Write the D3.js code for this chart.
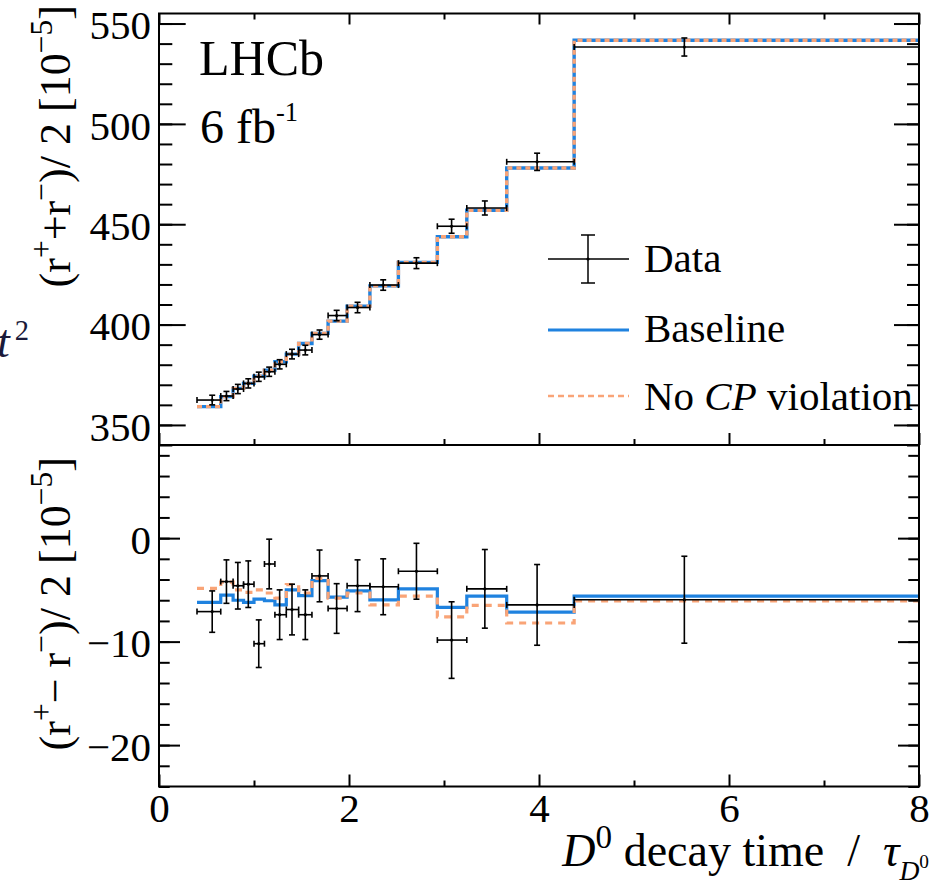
<!DOCTYPE html>
<html>
<head>
<meta charset="utf-8">
<script src="https://cdn.jsdelivr.net/npm/d3@7"></script>
<style>
body { margin: 0; background: #fff; }
svg text { font-family: "Liberation Serif", "Times New Roman", serif; }
</style>
</head>
<body>
<script>
// bin edges and mean decay time (units of D0 lifetime)
var binEdges = [0.40, 0.65, 0.78, 0.89, 1.00, 1.11, 1.22, 1.34, 1.47, 1.61, 1.78, 1.98, 2.22, 2.52, 2.93, 3.24, 3.66, 4.37, 8.00];
var tMean = [0.56, 0.71, 0.83, 0.94, 1.05, 1.16, 1.27, 1.40, 1.54, 1.69, 1.87, 2.09, 2.36, 2.71, 3.08, 3.43, 3.98, 5.53];

// (r+ + r-)/2  [1e-5]
var sumData = [362.4, 364.4, 367.9, 370.7, 374.0, 376.5, 380.2, 385.3, 387.3, 395.0, 404.5, 408.5, 419.7, 430.6, 449.0, 458.1, 481.1, 538.3];
var sumErr = [2.4, 2.3, 2.3, 2.3, 2.3, 2.3, 2.3, 2.4, 2.4, 2.3, 2.6, 2.6, 2.6, 2.7, 3.5, 3.5, 4.3, 4.5];
var sumBaseline = [359.1, 364.1, 368.2, 370.7, 374.3, 377.3, 381.5, 385.3, 390.6, 395.6, 401.7, 409.2, 419.3, 431.0, 443.8, 457.0, 478.0, 541.7];
var sumNoCP = [359.1, 364.1, 368.2, 370.7, 374.3, 377.3, 381.5, 385.3, 390.6, 395.6, 401.7, 409.2, 419.3, 431.0, 443.8, 457.0, 478.0, 541.7];

// (r+ - r-)/2  [1e-5]
var diffData = [-7.1, -4.2, -4.6, -4.45, -10.2, -2.5, -7.4, -6.9, -7.4, -3.65, -6.8, -4.6, -4.7, -3.2, -9.85, -4.9, -6.45, -5.95];
var diffErr = [2.0, 2.1, 2.25, 2.25, 2.3, 2.4, 2.4, 2.45, 2.4, 2.5, 2.4, 2.5, 2.7, 2.7, 3.7, 3.8, 3.9, 4.2];
var diffBaseline = [-6.2, -5.5, -6.0, -6.2, -5.9, -6.05, -6.45, -5.0, -5.55, -4.1, -5.7, -5.1, -5.97, -4.9, -6.7, -5.6, -7.15, -5.6];
var diffNoCP = [-4.85, -4.25, -5.0, -5.25, -5.0, -5.3, -5.8, -4.5, -5.3, -3.9, -5.8, -5.3, -6.45, -5.6, -7.6, -6.5, -8.2, -6.07];

var xTicks = [0, 2, 4, 6, 8], xMinor = [1, 3, 5, 7];
var topTicks = [350, 400, 450, 500, 550], topMinor = d3.range(340, 556, 10);
var botTicks = [-20, -10, 0], botMinor = d3.range(-24, 9.5, 2);

var legendItems = ["Data", "Baseline", "No CP violation"];

var W = 932, H = 881;
var xL = 159, xR = 919, yT = 13.5, yM = 445, yB = 786.5;
var BLUE = "#1f82df", ORANGE = "#f9a477";
var FONT = '"Liberation Serif", "Times New Roman", serif';
var FS = 41; // tick label size
var NB = "\u00a0";

var svg = d3.select('body').append('svg').attr('width', W).attr('height', H);

var x = d3.scaleLinear().domain([0, 8]).range([xL, xR]);
var yTop = d3.scaleLinear().domain([340, 555]).range([yM, yT]);
var yBot = d3.scaleLinear().domain([-24, 9]).range([yB, yM]);

/* rich text: parts with offset (em), size scale and extra dx */
function rich(sel, parts, size){
	var cur = 0;
	parts.forEach(function(p){
		var off = (p.off || 0) * size;
		sel.append('tspan')
			.attr('dy', off - cur)
			.attr('dx', p.dx || 0)
			.attr('font-size', size * (p.s || 1))
			.style('font-style', p.it ? 'italic' : null)
			.text(p.t);
		cur = off;
	});
}

/* step line through bin edges */
function stepPath(y, vals){
	var pts = vals.map(function(v, i){ return [binEdges[i], v]; });
	pts.push([binEdges[binEdges.length - 1], vals[vals.length - 1]]);
	return d3.line().x(function(d){ return x(d[0]); }).y(function(d){ return y(d[1]); }).curve(d3.curveStepAfter)(pts);
}

function drawPanel(y, base, nocp, data, err, dash, width){
	var g = svg.append('g');
	g.append('path').attr('d', stepPath(y, base))
		.attr('fill', 'none').attr('stroke', BLUE).attr('stroke-width', width);
	g.append('path').attr('d', stepPath(y, nocp))
		.attr('fill', 'none').attr('stroke', ORANGE).attr('stroke-width', width)
		.attr('stroke-dasharray', dash);

	var pts = g.selectAll('g.pt').data(data).enter().append('g').classed('pt', true)
		.attr('stroke', '#000').attr('stroke-width', 1.6);
	pts.append('line')
		.attr('x1', function(d, i){ return x(binEdges[i]); })
		.attr('x2', function(d, i){ return x(binEdges[i + 1]); })
		.attr('y1', function(d){ return y(d); }).attr('y2', function(d){ return y(d); });
	pts.append('line')
		.attr('x1', function(d, i){ return x(tMean[i]); }).attr('x2', function(d, i){ return x(tMean[i]); })
		.attr('y1', function(d, i){ return y(d - err[i]); }).attr('y2', function(d, i){ return y(d + err[i]); });
	// caps
	[-1, 1].forEach(function(s){
		pts.append('line')
			.attr('x1', function(d, i){ return x(tMean[i]) - 3; }).attr('x2', function(d, i){ return x(tMean[i]) + 3; })
			.attr('y1', function(d, i){ return y(d + s * err[i]); }).attr('y2', function(d, i){ return y(d + s * err[i]); });
		pts.append('line')
			.attr('x1', function(d, i){ return x(binEdges[s < 0 ? i : i + 1]); })
			.attr('x2', function(d, i){ return x(binEdges[s < 0 ? i : i + 1]); })
			.attr('y1', function(d){ return y(d) - 3; }).attr('y2', function(d){ return y(d) + 3; });
	});
	pts.append('circle').attr('cx', function(d, i){ return x(tMean[i]); })
		.attr('cy', function(d){ return y(d); }).attr('r', 1.6).attr('fill', '#000').attr('stroke', 'none');
}

drawPanel(yTop, sumBaseline, sumNoCP, sumData, sumErr, "5,4", 3.4);
drawPanel(yBot, diffBaseline, diffNoCP, diffData, diffErr, "7,6", 3.2);

/* axes: ticks pointing inwards */
function axis(gen, tx, ty, vals, len, labels){
	var a = gen.tickValues(vals).tickSizeInner(-len).tickSizeOuter(0).tickPadding(8);
	if(!labels) a.tickFormat("");
	var g = svg.append('g').attr('transform', 'translate(' + tx + ',' + ty + ')').call(a);
	g.attr('font-family', FONT).attr('font-size', FS);
	g.select('.domain').remove();
	g.selectAll('line').attr('stroke', '#000').attr('stroke-width', 2);
	g.selectAll('text').style('font-family', FONT).attr('font-size', FS).attr('fill', '#000');
	return g;
}
var fmt = function(d){ return d < 0 ? "\u2212" + (-d) : d; };

// top panel
axis(d3.axisLeft(yTop), xL, 0, topTicks, 26.7, true).selectAll('text').attr('dy', '0.37em');
axis(d3.axisLeft(yTop), xL, 0, topMinor, 13.3);
axis(d3.axisRight(yTop), xR, 0, topTicks, 25);
axis(d3.axisRight(yTop), xR, 0, topMinor, 12);
axis(d3.axisTop(x), 0, yT, xTicks, 11);
axis(d3.axisTop(x), 0, yT, xMinor, 6);
axis(d3.axisBottom(x), 0, yM, xTicks, 12);
axis(d3.axisBottom(x), 0, yM, xMinor, 6);

// bottom panel
axis(d3.axisLeft(yBot).tickFormat(fmt), xL, 0, botTicks, 21, true).selectAll('text').attr('dy', '0.37em');
axis(d3.axisLeft(yBot), xL, 0, botMinor, 10.7);
axis(d3.axisRight(yBot), xR, 0, botTicks, 21);
axis(d3.axisRight(yBot), xR, 0, botMinor, 10.7);
axis(d3.axisBottom(x), 0, yB, xTicks, 12, true).selectAll('text').attr('dy', '0.68em');
axis(d3.axisBottom(x), 0, yB, xMinor, 6);

// frames
svg.append('rect').attr('x', xL).attr('y', yT).attr('width', xR - xL).attr('height', yB - yT)
	.attr('fill', 'none').attr('stroke', '#000').attr('stroke-width', 2);
svg.append('line').attr('x1', xL).attr('x2', xR).attr('y1', yM).attr('y2', yM)
	.attr('stroke', '#000').attr('stroke-width', 2);

/* axis titles */
var sup = 0.72;
rich(svg.append('text').attr('text-anchor', 'end').attr('transform', 'translate(70,5) rotate(-90)'),
	[{t: "(r"}, {t: "+", off: -0.4, s: sup}, {t: "+r"}, {t: "\u2212", off: -0.4, s: sup}, {t: ")/ 2  [10"},
	 {t: "\u22125", off: -0.4, s: sup}, {t: "]"}], 44);
rich(svg.append('text').attr('text-anchor', 'end').attr('transform', 'translate(70,457) rotate(-90)'),
	[{t: "(r"}, {t: "+", off: -0.4, s: sup}, {t: "\u2212 r"}, {t: "\u2212", off: -0.4, s: sup}, {t: ")/ 2  [10"},
	 {t: "\u22125", off: -0.4, s: sup}, {t: "]"}], 44);
rich(svg.append('text').attr('text-anchor', 'end').attr('x', 929).attr('y', 866),
	[{t: "D", it: true}, {t: "0", off: -0.4, s: sup}, {t: NB + "decay time" + NB + NB + "/" + NB + NB}, {t: "\u03c4", it: true},
	 {t: "D", off: 0.3, s: 0.6, it: true}, {t: "0", off: 0.05, s: 0.42}], 46);

/* labels */
svg.append('text').attr('x', 199).attr('y', 75).attr('font-size', 50).text("LHCb");
rich(svg.append('text').attr('x', 200).attr('y', 143), [{t: "6 fb"}, {t: "-1", off: -0.45, s: 0.55}], 48);

// clipped label from neighbouring figure
rich(svg.append('text').attr('x', -3).attr('y', 357).attr('fill', '#1a1a3a'),
	[{t: "t", it: true}, {t: "2", off: -0.36, s: 0.62, dx: 5}], 46);

/* legend */
var lg = svg.append('g');
var lx0 = 548, lx1 = 629, ly = [259, 330, 396];
lg.append('line').attr('x1', lx0).attr('x2', lx1).attr('y1', ly[0]).attr('y2', ly[0]).attr('stroke', '#000').attr('stroke-width', 1.5);
lg.append('line').attr('x1', 588).attr('x2', 588).attr('y1', ly[0] - 24).attr('y2', ly[0] + 24).attr('stroke', '#000').attr('stroke-width', 1.5);
[-24, 24].forEach(function(o){
	lg.append('line').attr('x1', 581).attr('x2', 595).attr('y1', ly[0] + o).attr('y2', ly[0] + o).attr('stroke', '#000').attr('stroke-width', 1.5);
});
lg.append('circle').attr('cx', 588).attr('cy', ly[0]).attr('r', 1.6);
lg.append('line').attr('x1', lx0).attr('x2', lx1).attr('y1', ly[1]).attr('y2', ly[1]).attr('stroke', BLUE).attr('stroke-width', 3);
lg.append('line').attr('x1', lx0).attr('x2', lx1).attr('y1', ly[2]).attr('y2', ly[2]).attr('stroke', ORANGE).attr('stroke-width', 2.5).attr('stroke-dasharray', '6,4');
lg.append('text').attr('x', 644).attr('y', ly[0] + 13).attr('font-size', FS).text(legendItems[0]);
lg.append('text').attr('x', 644).attr('y', ly[1] + 12).attr('font-size', FS).text(legendItems[1]);
var t3 = lg.append('text').attr('x', 644).attr('y', ly[2] + 14).attr('font-size', FS);
var words = legendItems[2].split(" ");
t3.append('tspan').text(words[0] + " ");
t3.append('tspan').style('font-style', 'italic').text(words[1]);
t3.append('tspan').text(" " + words[2]);
</script>
</body>
</html>
